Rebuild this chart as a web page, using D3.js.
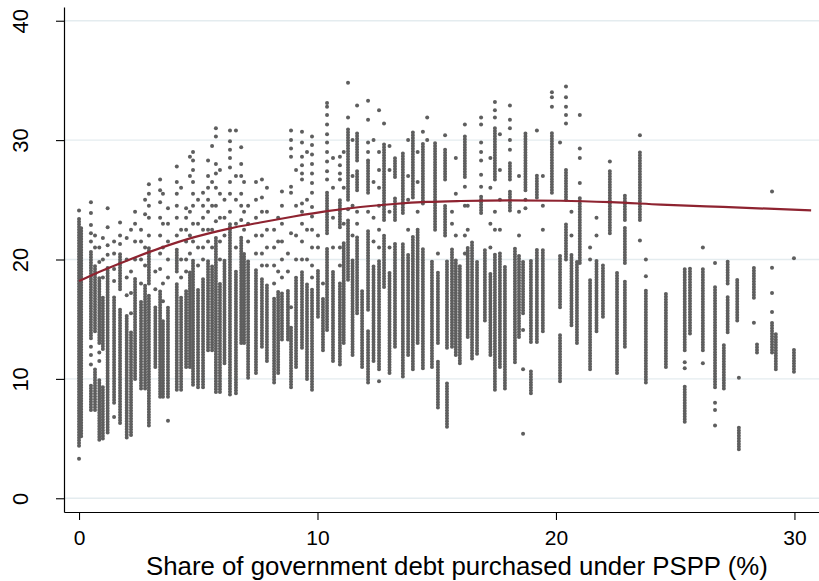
<!DOCTYPE html>
<html>
<head>
<meta charset="utf-8">
<script src="https://cdn.jsdelivr.net/npm/d3@7"></script>
<style>
  html, body { margin: 0; padding: 0; background: #fff; }
  svg { display: block; }
  text { font-family: "Liberation Sans", Arial, Helvetica, sans-serif; fill: #000; }
</style>
</head>
<body>
<svg id="chart" width="819" height="581"></svg>
<script>
// Axis ticks
const xTicks = [0, 10, 20, 30];
const yTicks = [0, 10, 20, 30, 40];
const xTitle = "Share of government debt purchased under PSPP (%)";

// Each observation strip: x position, dense stretches [low, high] and isolated values
const stripX = [
  0.00, 0.09, 0.50, 0.85, 1.20, 1.47, 1.72, 2.00, 2.35, 2.60,
  2.93, 3.20, 3.40, 3.73, 4.10, 4.49, 4.78, 5.20, 5.41, 5.74,
  6.10, 6.33, 6.80, 7.09, 7.42, 7.67, 8.18, 8.51, 8.76, 8.89,
  9.35, 9.77, 10.02, 10.23, 10.40, 10.94, 11.28, 11.66, 11.87, 12.12,
  12.58, 12.79, 13.25, 13.58, 14.00, 14.42, 14.60, 14.80, 14.93, 15.05,
  15.35, 15.43, 15.64, 15.97, 16.18, 16.48, 16.69, 16.86, 17.02, 17.44,
  17.86, 18.07, 18.28, 18.62, 18.72, 18.95, 19.20, 19.83, 20.17, 20.42,
  20.88, 21.00, 21.43, 21.97, 22.26, 22.56, 22.89, 23.52, 23.77, 24.61,
  25.40, 25.62, 26.16, 26.67, 27.04, 27.20, 27.60, 27.67, 28.30, 28.43,
  29.06, 29.22, 29.98,
  0.67, 1.00, 2.18, 2.77, 3.52, 4.28, 4.65, 4.99, 5.58, 5.91,
  6.58, 6.92, 7.88, 8.35, 9.10, 9.56, 10.65, 11.10, 11.47, 12.35,
  13.02, 13.80, 14.20, 15.80, 16.30, 17.25, 17.65, 18.45, 19.45, 20.65,
  21.70
];

const stripRuns = [
  [[4.4, 23.5]], [[5.2, 22.8]], [[13.4, 20.8], [7.4, 9.6]], [[13.0, 18.5], [4.9, 9.9]], [[5.5, 19.5]],
  [[8.0, 17.0]], [[17.5, 20.5], [6.3, 16.0]], [[5.1, 15.5]], [[10.0, 18.5]], [[9.2, 16.5]],
  [[18.0, 21.0], [6.1, 17.0]], [[11.0, 16.0]], [[8.5, 17.5]], [[8.5, 16.0]], [[19.0, 21.0], [9.1, 18.0]],
  [[11.0, 17.5]], [[9.5, 20.0]], [[9.3, 18.5]], [[12.4, 20.0]], [[8.9, 22.0]],
  [[11.3, 20.0]], [[8.7, 23.0]], [[13.0, 22.0]], [[10.1, 20.0]], [[10.5, 19.1]],
  [[12.7, 18.5]], [[9.7, 16.9]], [[13.3, 17.2]], [[13.3, 17.5]], [[9.3, 14.3]],
  [[12.6, 19.1]], [[9.1, 17.5]], [[15.2, 19.1]], [[12.4, 16.9]], [[22.2, 25.8], [14.1, 21.0]],
  [[22.7, 25.0], [11.2, 18.0]], [[25.0, 31.1], [18.3, 23.5]], [[28.3, 30.7], [25.8, 27.5], [15.5, 22.0]], [[11.0, 17.5]], [[25.6, 28.1], [15.8, 22.5], [9.7, 14.1]],
  [[10.8, 20.0]], [[23.3, 29.8], [17.7, 22.0]], [[26.9, 28.5], [23.3, 25.3], [12.7, 21.5]], [[23.9, 28.9], [10.2, 21.5]], [[25.2, 30.7], [10.8, 22.0]],
  [[24.7, 29.8], [10.9, 21.0]], [], [[11.0, 20.0]], [[22.5, 29.8]], [[13.0, 19.0], [7.6, 11.6]],
  [[26.7, 29.4], [22.0, 24.5]], [[12.6, 20.0], [6.0, 9.7]], [[12.7, 21.0]], [[11.3, 19.5]], [[26.9, 30.4]],
  [[11.7, 21.5]], [[12.1, 20.0]], [[23.9, 25.4]], [[14.9, 21.0]], [[26.7, 31.0], [9.1, 20.5]],
  [[9.2, 19.5]], [[26.7, 28.2], [24.1, 25.8]], [[11.4, 21.0]], [[15.5, 20.0]], [[25.8, 30.7]],
  [[13.1, 20.0], [8.8, 10.8]], [[25.2, 27.2], [13.1, 21.0]], [[25.6, 30.6]], [[16.0, 20.5], [9.8, 13.7]], [[25.0, 27.5], [20.0, 23.0]],
  [[13.0, 20.0]], [[19.7, 25.3]], [[10.8, 18.3]], [[15.2, 19.5]], [[22.2, 27.5]],
  [[10.5, 19.0]], [[23.3, 25.4], [19.7, 22.7], [12.7, 18.3]], [[23.3, 29.0]], [[9.7, 17.5]], [[11.0, 17.3]],
  [[12.4, 19.4], [6.4, 9.5]], [[13.8, 19.4]], [[12.4, 19.3]], [[9.3, 17.7]], [[9.2, 13.0]],
  [[18.0, 20.0], [13.9, 16.9]], [[14.9, 18.5]], [[4.1, 6.0]], [[16.8, 19.3]], [[12.2, 13.1]],
  [[12.2, 14.9]], [[10.8, 13.8]], [[10.6, 12.6]],
  [[14.0, 19.5], [7.4, 11.0]], [[5.0, 9.5], [12.5, 17.0]], [[5.3, 14.0]], [[9.2, 18.0]], [[8.5, 15.0]],
  [[9.1, 17.0]], [[11.0, 19.0]], [[9.3, 17.5]], [[12.4, 19.5]], [[8.9, 18.0]],
  [[8.8, 19.0]], [[13.0, 20.5]], [[11.5, 18.0]], [[10.5, 17.5]], [[11.0, 18.5]],
  [[10.0, 18.0]], [[11.5, 19.0]], [[13.0, 21.5]], [[12.0, 20.0]], [[11.5, 19.5]],
  [[10.5, 19.0]], [[12.0, 20.5]], [[13.0, 22.5]], [[12.0, 20.0]], [[13.5, 21.0]],
  [[12.0, 19.0]], [[11.0, 20.5]], [[13.5, 20.5]], [[14.0, 21.0]], [[14.5, 20.5]],
  [[14.0, 20.0]]
];

const stripDots = [
  [24.1, 3.3], [], [24.8, 23.9, 22.9, 22.2, 21.5, 12.7, 12.0, 11.2], [21.0, 19.8, 12.2, 11.5], [24.3, 22.7, 21.2, 20.4],
  [21.5, 20.5, 19.2, 18.2, 6.8], [23.1, 22.0, 21.3], [21.8, 20.0, 18.5, 17.0], [24.0, 23.0, 21.5, 20.0], [22.5, 21.5, 20.0, 18.0],
  [26.3, 25.5, 24.5, 23.5, 22.0], [17.5, 19.0], [26.7, 25.8, 24.8, 23.5, 22.0, 20.5, 19.2], [24.3, 23.0, 21.5, 20.0, 18.5, 6.5], [27.8, 26.5, 25.5, 24.5, 23.5, 22.0],
  [24.3, 23.5, 22.5, 21.5, 20.0, 19.0], [29.0, 28.3, 27.5, 26.5, 25.5, 24.5, 23.0, 21.5], [25.6, 24.5, 23.5, 22.5, 21.0, 20.0], [28.3, 27.0, 26.0, 25.0, 24.0, 22.5, 21.5], [31.0, 30.3, 28.0, 27.2, 26.0, 24.5, 23.2],
  [25.0, 23.5, 22.0], [30.8, 29.9, 29.2, 28.5, 27.7, 26.5, 25.5, 24.0], [29.4, 28.0, 27.0, 25.5, 24.5, 23.3], [24.5, 23.0, 21.5], [26.5, 25.0, 23.5, 22.0, 20.5],
  [26.7, 25.2, 24.0, 22.0, 20.5, 19.5], [22.5, 21.0, 19.5, 18.0], [25.7, 24.5, 23.0, 21.5, 20.0, 18.5], [19.0, 20.5], [30.8, 30.0, 29.3, 28.6, 26.1, 25.6, 22.2, 16.0],
  [30.7, 29.8, 28.6, 27.9, 27.2, 26.7, 24.7, 24.0, 23.0, 21.5, 20.0], [30.3, 29.6, 28.8, 28.0, 27.2, 26.4, 25.6, 24.4, 23.6, 22.5, 21.0, 19.5, 18.5], [21.0, 22.0], [18.0], [33.1, 32.8, 32.1, 31.3, 30.5, 29.8, 29.0, 28.2, 27.4, 26.7],
  [28.6, 27.9, 27.2, 26.7, 21.0, 19.5], [34.8, 31.9, 24.2], [32.9, 24.0, 23.0], [], [33.3, 31.7, 29.8, 29.0, 28.3, 24.0],
  [32.5, 29.0, 27.5, 26.0, 24.5, 22.5, 21.0, 9.8], [31.4], [], [], [],
  [30.7], [31.9, 30.0], [], [], [20.5],
  [30.4], [], [23.0, 24.0], [], [31.3, 26.1, 24.5, 22.0, 20.5],
  [], [], [31.9, 31.3, 29.8, 29.0, 28.3, 27.1, 26.1], [], [33.2, 32.5, 31.9, 22.5, 24.0],
  [], [32.9, 31.7, 31.0, 30.0, 29.2], [], [14.1, 10.8, 5.4], [25.0, 24.3],
  [], [30.8], [34.0, 33.6, 32.8], [29.8], [34.5, 33.6, 32.8, 32.1, 31.4],
  [], [32.1, 29.3, 28.5, 26.4], [20.0, 21.0], [], [28.2],
  [], [], [30.4, 21.6], [20.0, 18.6], [],
  [11.4, 10.9], [], [21.0, 11.3], [19.7, 8.0, 7.4, 6.1], [],
  [], [], [10.1], [14.7], [],
  [25.7, 19.3, 17.2, 15.6], [], [20.1],
  [21.0, 22.0], [18.5, 20.0, 21.8], [15.5, 17.2, 19.0, 22.5], [19.5, 21.0, 23.8, 25.0], [16.5, 18.0, 21.0, 23.0, 25.5],
  [18.5, 20.0, 22.5, 26.0], [20.5, 22.0, 24.0, 27.0, 28.6], [19.5, 21.0, 23.0, 25.0], [21.0, 22.5, 24.5, 26.5, 29.5], [20.0, 21.5, 23.5, 25.5, 27.5],
  [21.0, 23.0, 25.0, 27.0, 30.8], [22.5, 24.0, 26.5], [19.5, 21.0, 22.5, 24.0, 26.0], [19.0, 21.5, 23.5], [20.0, 22.0, 24.5, 27.5],
  [20.0, 22.5, 25.0, 29.0], [21.0, 23.5, 26.0, 28.5], [23.0, 26.0, 29.0], [22.0, 24.5, 27.0, 30.0], [21.5, 23.5, 26.5, 30.0],
  [21.0, 24.0, 27.5, 29.5], [22.5, 25.0, 27.0, 30.0], [24.0, 26.5, 29.0], [22.0, 25.5, 28.5], [22.5, 24.5],
  [21.0, 23.0, 26.0, 28.5], [22.5, 25.0, 27.5, 30.5], [22.0, 24.0, 27.0], [22.5, 24.5, 27.0], [22.0, 24.0],
  [22.0, 23.5]
];

// Fitted curve read at points along x
const fitX = [0, 0.6, 2.0, 3.4, 4.8, 6.2, 7.6, 9.0, 10.4, 11.8, 13.2, 14.6, 16.0, 18.0, 20.2, 22.3, 24.4, 27.0, 30.7];
const fitY = [18.2, 18.75, 19.9, 20.95, 21.85, 22.55, 23.1, 23.6, 24.05, 24.4, 24.65, 24.82, 24.9, 24.95, 24.92, 24.8, 24.6, 24.4, 24.12];

const svg = d3.select("#chart");
const x = d3.scaleLinear().domain([-0.63, 31.03]).range([64, 819]);
const y = d3.scaleLinear().domain([-1.15, 41.15]).range([512, 7]);

const dotColor = "#5e5e5e";
const dotR = 2.0;

// Horizontal grid
svg.append("g").selectAll("line").data(yTicks).join("line")
  .attr("x1", x.range()[0]).attr("x2", x.range()[1])
  .attr("y1", d => y(d)).attr("y2", d => y(d))
  .attr("stroke", "#e4ecef").attr("stroke-width", 1.4);

// Observation strips: dense stretches are drawn as rows of overlapping round markers
const strips = svg.append("g");
stripX.forEach((sx, i) => {
  strips.selectAll(null).data(stripRuns[i]).join("line")
    .attr("x1", x(sx)).attr("x2", x(sx))
    .attr("y1", d => y(d[0])).attr("y2", d => y(d[1]))
    .attr("stroke", dotColor).attr("stroke-width", dotR * 2)
    .attr("stroke-linecap", "round")
    .attr("stroke-dasharray", "0 2.7");
  strips.selectAll(null).data(stripDots[i]).join("circle")
    .attr("cx", x(sx)).attr("cy", d => y(d)).attr("r", dotR)
    .attr("fill", dotColor);
});

// Fitted curve
const fitLine = d3.line().x(d => x(d[0])).y(d => y(d[1])).curve(d3.curveMonotoneX);
svg.append("path")
  .datum(fitX.map((v, i) => [v, fitY[i]]))
  .attr("d", fitLine)
  .attr("fill", "none").attr("stroke", "#8e2330").attr("stroke-width", 2.2);

// Axes
const xAxis = svg.append("g").attr("transform", `translate(0,${y.range()[0]})`)
  .call(d3.axisBottom(x).tickValues(xTicks).tickFormat(d3.format("d")).tickSize(8).tickSizeOuter(0));
const yAxis = svg.append("g").attr("transform", `translate(${x.range()[0]},0)`)
  .call(d3.axisLeft(y).tickValues(yTicks).tickFormat(d3.format("d")).tickSize(8).tickSizeOuter(0));

[xAxis, yAxis].forEach(a => {
  a.select(".domain").attr("stroke", "#000").attr("stroke-width", 1.2);
  a.selectAll(".tick line").attr("stroke", "#000").attr("stroke-width", 1.1);
  a.selectAll("text").style("font-family", '"Liberation Sans", Arial, sans-serif').attr("fill", "#000");
});

xAxis.selectAll(".tick text").attr("y", 33).attr("dy", null).style("font-size", "21px");
yAxis.selectAll(".tick text")
  .attr("transform", "rotate(-90)")
  .attr("x", 0).attr("y", -36).attr("dy", null)
  .attr("text-anchor", "middle").style("font-size", "22px");

// Axis title
svg.append("text")
  .attr("x", 146).attr("y", 575)
  .attr("text-anchor", "start")
  .style("font-size", "25.8px")
  .text(xTitle);
</script>
</body>
</html>
